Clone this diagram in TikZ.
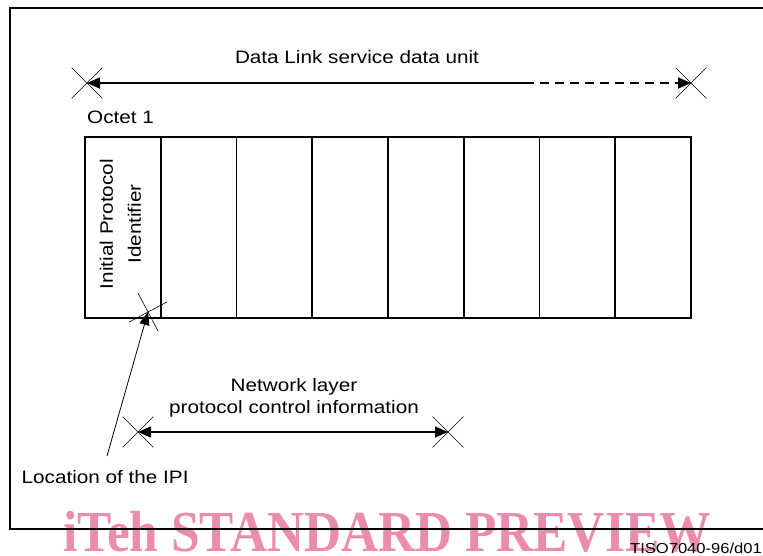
\documentclass[tikz,border=0pt]{standalone}
\usepackage{fontspec}
\setmainfont{Liberation Sans}[FakeStretch=1.15]
\newfontfamily\wmfont{Liberation Serif}[FakeStretch=0.885]
\usetikzlibrary{arrows.meta,shapes.misc}
\definecolor{wmpink}{RGB}{235,140,170}
\tikzset{
  lbl/.style={inner sep=0pt,font=\fontsize{18}{22}\selectfont},
  octet/.style={draw,line width=1.6pt,minimum width=75.75pt,minimum height=181pt,inner sep=0pt},
  xmk/.style={cross out,draw,line width=0.6pt,minimum size=30pt,inner sep=0pt},
  arr/.style={line width=1.6pt,-{Triangle[length=13pt,width=11pt]}},
  darr/.style={line width=1.6pt,{Triangle[length=13pt,width=11pt]}-{Triangle[length=13pt,width=11pt]}},
  frame/.style={line width=1.5pt}
}
\begin{document}
\begin{tikzpicture}[x=1pt,y=-1pt]
\useasboundingbox (0,0) rectangle (763,555);
% watermark
\node[anchor=base west,inner sep=0pt,text=wmpink,font=\wmfont\bfseries\fontsize{58}{60}\selectfont] (wm) at (63,551) {iTeh STANDARD PREVIEW};
% frame
\coordinate (ftr) at (763,8);
\coordinate (ftl) at (10,8);
\coordinate (fbl) at (10,529);
\coordinate (fbr) at (763,529);
\draw[frame] (ftr) -- (ftl) -- (fbl) -- (fbr);
% octets
\foreach \i in {1,...,8} {
  \node[octet] (o\i) at ({85+75.75*(\i-0.5)},227.5) {};
}
\node[lbl,rotate=90,align=center] (ipi) at (120.5,224) {Initial Protocol\\[6pt]Identifier};
% top dimension
\node[xmk] (xl) at (87,83) {};
\node[xmk] (xr) at (691,83) {};
\coordinate (mid) at (525,83);
\draw[arr] (mid) -- (xl.center);
\draw[arr,dash pattern=on 9pt off 6pt] (mid) -- (xr.center);
\node[lbl,anchor=base] (dl) at (357,63.5) {Data Link service data unit};
\node[lbl,anchor=base west] (oct) at (87,123.5) {Octet 1};
% network layer
\node[xmk] (nl) at (138,432) {};
\node[xmk] (nr) at (448,432) {};
\draw[darr] (nl.center) -- (nr.center);
\node[lbl,align=center] (nt) at (294,398) {Network layer\\protocol control information};
% IPI location
\node[xmk,rotate=-17] (ipix) at (148,312) {};
\coordinate (lead) at (107,456);
\draw[line width=0.8pt,-{Triangle[length=13pt,width=10pt]}] (lead) -- (ipix.center);
\node[lbl,anchor=base west] (loc) at (21.5,483) {Location of the IPI};
\node[inner sep=0pt,anchor=base east,font=\fontsize{14.4}{16}\selectfont] (tiso) at (762,553) {TISO7040-96/d01};
\end{tikzpicture}
\end{document}
